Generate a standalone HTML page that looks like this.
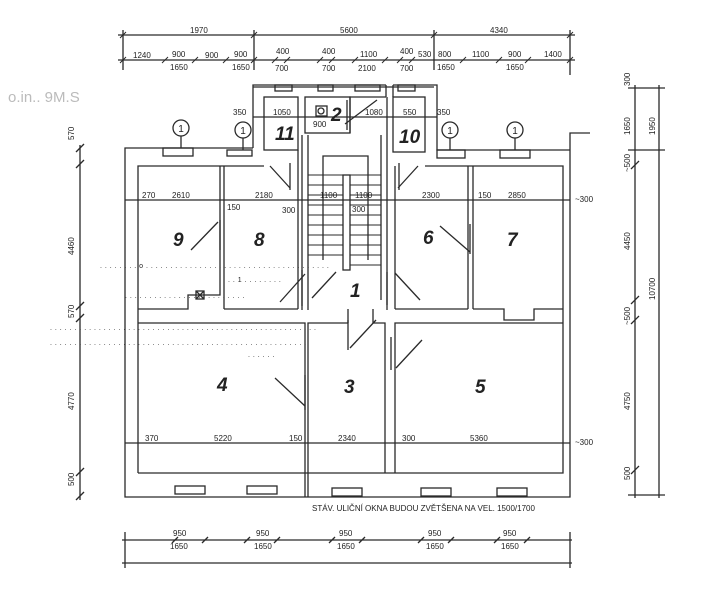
<!DOCTYPE html>
<html><head><meta charset="utf-8"><style>
html,body{margin:0;padding:0;background:#fff;width:718px;height:600px;overflow:hidden}
svg{display:block}
text{font-family:"Liberation Sans",sans-serif;fill:#222}
.d{font-size:8px;fill:#333}
.n{font-size:19px;font-style:italic;font-weight:bold}
.f{font-size:7px;fill:#c8c8c8;letter-spacing:0.5px}
</style></head><body>
<svg width="718" height="600" viewBox="0 0 718 600" xmlns="http://www.w3.org/2000/svg">
<g class="f">
<text x="100" y="268">. . . . . . . . o . . . . . . . . . . . . . . . . . . . . . . . . . . . . . . . . . . . . . .</text>
<text x="228" y="282">. . 1 . . . . . . . .</text>
<text x="125" y="298">. . . . . . . . . . . . . . . . . . . . . . . . .</text>
<text x="50" y="330">. . . . . . . . . . . . . . . . . . . . . . . . . . . . . . . . . . . . . . . . . . . . . . . . . . . . . . .</text>
<text x="50" y="345">. . . . . . . . . . . . . . . . . . . . . . . . . . . . . . . . . . . . . . . . . . . . . . . . . . . . .</text>
<text x="248" y="357">. . . . . .</text>
</g>
<g stroke="#2a2a2a" stroke-width="1.3" fill="none">
<line x1="118" y1="35" x2="575" y2="35"/>
<line x1="118" y1="60" x2="575" y2="60"/>
<line x1="123" y1="30" x2="123" y2="70"/><line x1="254" y1="30" x2="254" y2="70"/><line x1="434" y1="30" x2="434" y2="70"/><line x1="570" y1="30" x2="570" y2="75"/>
<g stroke-width="1">
<line x1="120" y1="63" x2="126" y2="57"/><line x1="162" y1="63" x2="168" y2="57"/><line x1="192" y1="63" x2="198" y2="57"/><line x1="223" y1="63" x2="229" y2="57"/><line x1="251" y1="63" x2="257" y2="57"/>
<line x1="272" y1="63" x2="278" y2="57"/><line x1="284" y1="63" x2="290" y2="57"/><line x1="317" y1="63" x2="323" y2="57"/><line x1="329" y1="63" x2="335" y2="57"/><line x1="352" y1="63" x2="358" y2="57"/><line x1="382" y1="63" x2="388" y2="57"/><line x1="397" y1="63" x2="403" y2="57"/><line x1="409" y1="63" x2="415" y2="57"/>
<line x1="460" y1="63" x2="466" y2="57"/><line x1="496" y1="63" x2="502" y2="57"/><line x1="525" y1="63" x2="531" y2="57"/><line x1="567" y1="63" x2="573" y2="57"/>
<line x1="120" y1="38" x2="126" y2="32"/><line x1="251" y1="38" x2="257" y2="32"/><line x1="431" y1="38" x2="437" y2="32"/><line x1="567" y1="38" x2="573" y2="32"/>
</g>
<line x1="253" y1="87" x2="434" y2="87"/>
<polyline points="253,148 125,148 125,497 570,497 570,133 590,133"/>
<polyline points="253,148 253,85 386,85"/>
<polyline points="393,85 437,85 437,150 570,150"/>
<line x1="386" y1="85" x2="386" y2="97"/><line x1="393" y1="85" x2="393" y2="97"/>
<polyline points="138,473 138,166 264,166"/>
<line x1="298" y1="166" x2="298" y2="150"/>
<polyline points="425,166 563,166 563,473 138,473"/>
<polyline points="220,166 220,295 188,295 188,309 138,309"/>
<line x1="224" y1="166" x2="224" y2="309"/>
<line x1="224" y1="309" x2="298" y2="309"/>
<line x1="298" y1="166" x2="298" y2="309"/>
<line x1="302" y1="135" x2="302" y2="310"/>
<line x1="308" y1="135" x2="308" y2="310"/>
<line x1="381" y1="135" x2="381" y2="300"/>
<line x1="387" y1="97" x2="387" y2="310"/>
<polyline points="323,260 323,156 368,156 368,260"/>
<rect x="343" y="175" width="7" height="95"/>
<g stroke-width="0.9">
<line x1="308" y1="175" x2="343" y2="175"/><line x1="308" y1="185" x2="343" y2="185"/><line x1="308" y1="195" x2="343" y2="195"/><line x1="308" y1="205" x2="343" y2="205"/><line x1="308" y1="215" x2="343" y2="215"/><line x1="308" y1="225" x2="343" y2="225"/><line x1="308" y1="235" x2="343" y2="235"/><line x1="308" y1="245" x2="343" y2="245"/><line x1="308" y1="255" x2="343" y2="255"/>
<line x1="350" y1="175" x2="381" y2="175"/><line x1="350" y1="185" x2="381" y2="185"/><line x1="350" y1="195" x2="381" y2="195"/><line x1="350" y1="205" x2="381" y2="205"/><line x1="350" y1="215" x2="381" y2="215"/><line x1="350" y1="225" x2="381" y2="225"/><line x1="350" y1="235" x2="381" y2="235"/><line x1="350" y1="245" x2="381" y2="245"/><line x1="350" y1="255" x2="381" y2="255"/><line x1="350" y1="265" x2="381" y2="265"/>
</g>
<line x1="395" y1="166" x2="395" y2="309"/>
<line x1="468" y1="166" x2="468" y2="309"/><line x1="473" y1="166" x2="473" y2="309"/>
<polyline points="395,309 468,309"/>
<polyline points="473,309 504,309 504,320 534,320 534,309 563,309"/>
<polyline points="138,323 305,323 305,497"/>
<polyline points="308,497 308,323 348,323"/>
<polyline points="373,323 385,323 385,473"/>
<polyline points="395,473 395,323 563,323"/>
<line x1="373" y1="309" x2="373" y2="323"/><line x1="348" y1="309" x2="348" y2="323"/>
<rect x="264" y="97" width="34" height="53"/>
<rect x="305" y="97" width="45" height="36"/>
<polyline points="350,133 350,97 386,97"/>
<rect x="393" y="97" width="32" height="55"/>
<rect x="316" y="106" width="11" height="10"/><circle cx="321" cy="111" r="3"/>
<line x1="125" y1="200" x2="570" y2="200"/>
<line x1="125" y1="443" x2="570" y2="443"/>
<line x1="253" y1="117" x2="437" y2="117"/>
<rect x="163" y="148" width="30" height="8"/><rect x="227" y="150" width="25" height="6"/><rect x="437" y="150" width="28" height="8"/><rect x="500" y="150" width="30" height="8"/>
<rect x="275" y="85" width="17" height="6"/><rect x="318" y="85" width="15" height="6"/><rect x="355" y="85" width="25" height="6"/><rect x="398" y="85" width="17" height="6"/>
<rect x="175" y="486" width="30" height="8"/><rect x="247" y="486" width="30" height="8"/><rect x="332" y="488" width="30" height="8"/><rect x="421" y="488" width="30" height="8"/><rect x="497" y="488" width="30" height="8"/>
<line x1="270" y1="166" x2="290" y2="188"/><line x1="290" y1="163" x2="290" y2="190"/>
<line x1="418" y1="166" x2="398" y2="188"/><line x1="399" y1="163" x2="399" y2="190"/>
<line x1="191" y1="250" x2="218" y2="222"/><line x1="220" y1="220" x2="220" y2="250"/>
<line x1="440" y1="226" x2="470" y2="252"/><line x1="470" y1="224" x2="470" y2="254"/>
<line x1="280" y1="302" x2="305" y2="274"/><line x1="302" y1="270" x2="302" y2="306"/>
<line x1="312" y1="298" x2="336" y2="272"/>
<line x1="395" y1="273" x2="420" y2="300"/><line x1="387" y1="272" x2="387" y2="305"/>
<line x1="350" y1="348" x2="376" y2="320"/><line x1="348" y1="320" x2="348" y2="350"/>
<line x1="396" y1="368" x2="422" y2="340"/><line x1="391" y1="337" x2="391" y2="370"/>
<line x1="275" y1="378" x2="305" y2="406"/><line x1="305" y1="375" x2="305" y2="410"/>
<line x1="345" y1="124" x2="377" y2="100"/><line x1="347" y1="100" x2="347" y2="130"/>
<rect x="196" y="291" width="8" height="8"/><line x1="196" y1="291" x2="204" y2="299"/><line x1="204" y1="291" x2="196" y2="299"/>
<circle cx="181" cy="128" r="8"/><line x1="181" y1="136" x2="181" y2="148"/>
<circle cx="243" cy="130" r="8"/><line x1="243" y1="138" x2="243" y2="150"/>
<circle cx="450" cy="130" r="8"/><line x1="450" y1="138" x2="450" y2="150"/>
<circle cx="515" cy="130" r="8"/><line x1="515" y1="138" x2="515" y2="150"/>
<line x1="80" y1="145" x2="80" y2="500"/>
<line x1="76" y1="152" x2="84" y2="144"/><line x1="76" y1="168" x2="84" y2="160"/><line x1="76" y1="310" x2="84" y2="302"/><line x1="76" y1="322" x2="84" y2="314"/><line x1="76" y1="476" x2="84" y2="468"/><line x1="76" y1="500" x2="84" y2="492"/>
<line x1="635" y1="85" x2="635" y2="498"/><line x1="659" y1="85" x2="659" y2="498"/>
<line x1="628" y1="88" x2="665" y2="88"/><line x1="628" y1="150" x2="665" y2="150"/><line x1="628" y1="495" x2="665" y2="495"/>
<line x1="631" y1="169" x2="639" y2="161"/><line x1="631" y1="304" x2="639" y2="296"/><line x1="631" y1="324" x2="639" y2="316"/><line x1="631" y1="474" x2="639" y2="466"/>
<line x1="122" y1="540" x2="572" y2="540"/><line x1="122" y1="563" x2="572" y2="563"/>
<line x1="125" y1="532" x2="125" y2="568"/><line x1="570" y1="532" x2="570" y2="568"/>
<line x1="172" y1="543" x2="178" y2="537"/><line x1="202" y1="543" x2="208" y2="537"/><line x1="244" y1="543" x2="250" y2="537"/><line x1="274" y1="543" x2="280" y2="537"/><line x1="329" y1="543" x2="335" y2="537"/><line x1="359" y1="543" x2="365" y2="537"/><line x1="418" y1="543" x2="424" y2="537"/><line x1="448" y1="543" x2="454" y2="537"/><line x1="494" y1="543" x2="500" y2="537"/><line x1="524" y1="543" x2="530" y2="537"/>
</g>
<g class="d">
<text x="190" y="33">1970</text><text x="340" y="33">5600</text><text x="490" y="33">4340</text>
<text x="133" y="58">1240</text><text x="172" y="57">900</text><text x="170" y="70">1650</text><text x="205" y="58">900</text><text x="234" y="57">900</text><text x="232" y="70">1650</text>
<text x="276" y="54">400</text><text x="275" y="71">700</text><text x="322" y="54">400</text><text x="322" y="71">700</text><text x="360" y="57">1100</text><text x="358" y="71">2100</text><text x="400" y="54">400</text><text x="400" y="71">700</text><text x="418" y="57">530</text>
<text x="438" y="57">800</text><text x="437" y="70">1650</text><text x="472" y="57">1100</text><text x="508" y="57">900</text><text x="506" y="70">1650</text><text x="544" y="57">1400</text>
<text x="233" y="115">350</text><text x="273" y="115">1050</text><text x="313" y="127">900</text><text x="365" y="115">1080</text><text x="403" y="115">550</text><text x="437" y="115">350</text>
<text x="142" y="198">270</text><text x="172" y="198">2610</text><text x="255" y="198">2180</text><text x="227" y="210">150</text><text x="282" y="213">300</text><text x="320" y="198">1100</text><text x="355" y="198">1100</text><text x="352" y="212">300</text><text x="422" y="198">2300</text><text x="478" y="198">150</text><text x="508" y="198">2850</text><text x="575" y="202">~300</text>
<text x="145" y="441">370</text><text x="214" y="441">5220</text><text x="289" y="441">150</text><text x="338" y="441">2340</text><text x="402" y="441">300</text><text x="470" y="441">5360</text><text x="575" y="445">~300</text>
<text x="173" y="536">950</text><text x="170" y="549">1650</text><text x="256" y="536">950</text><text x="254" y="549">1650</text><text x="339" y="536">950</text><text x="337" y="549">1650</text><text x="428" y="536">950</text><text x="426" y="549">1650</text><text x="503" y="536">950</text><text x="501" y="549">1650</text>
<text x="312" y="511">STÁV. ULIČNÍ OKNA BUDOU ZVĚTŠENA NA VEL. 1500/1700</text>
<text transform="translate(74,140) rotate(-90)">570</text><text transform="translate(74,255) rotate(-90)">4460</text><text transform="translate(74,318) rotate(-90)">570</text><text transform="translate(74,410) rotate(-90)">4770</text><text transform="translate(74,486) rotate(-90)">500</text>
<text transform="translate(630,86) rotate(-90)">300</text><text transform="translate(630,135) rotate(-90)">1650</text><text transform="translate(655,135) rotate(-90)">1950</text><text transform="translate(630,172) rotate(-90)">~500</text><text transform="translate(630,250) rotate(-90)">4450</text><text transform="translate(630,325) rotate(-90)">~500</text><text transform="translate(655,300) rotate(-90)">10700</text><text transform="translate(630,410) rotate(-90)">4750</text><text transform="translate(630,480) rotate(-90)">500</text>
</g>
<g font-size="10" text-anchor="middle"><text x="181" y="132">1</text><text x="243" y="134">1</text><text x="450" y="134">1</text><text x="515" y="134">1</text></g>
<g class="n">
<text x="173" y="246">9</text><text x="254" y="246">8</text><text x="275" y="140">11</text><text x="331" y="121">2</text><text x="399" y="143">10</text><text x="423" y="244">6</text><text x="507" y="246">7</text><text x="350" y="297">1</text><text x="217" y="391">4</text><text x="344" y="393">3</text><text x="475" y="393">5</text>
</g>
<text x="8" y="102" font-size="15" style="fill:#bbb">o.in.. 9M.S</text>
</svg>
</body></html>
